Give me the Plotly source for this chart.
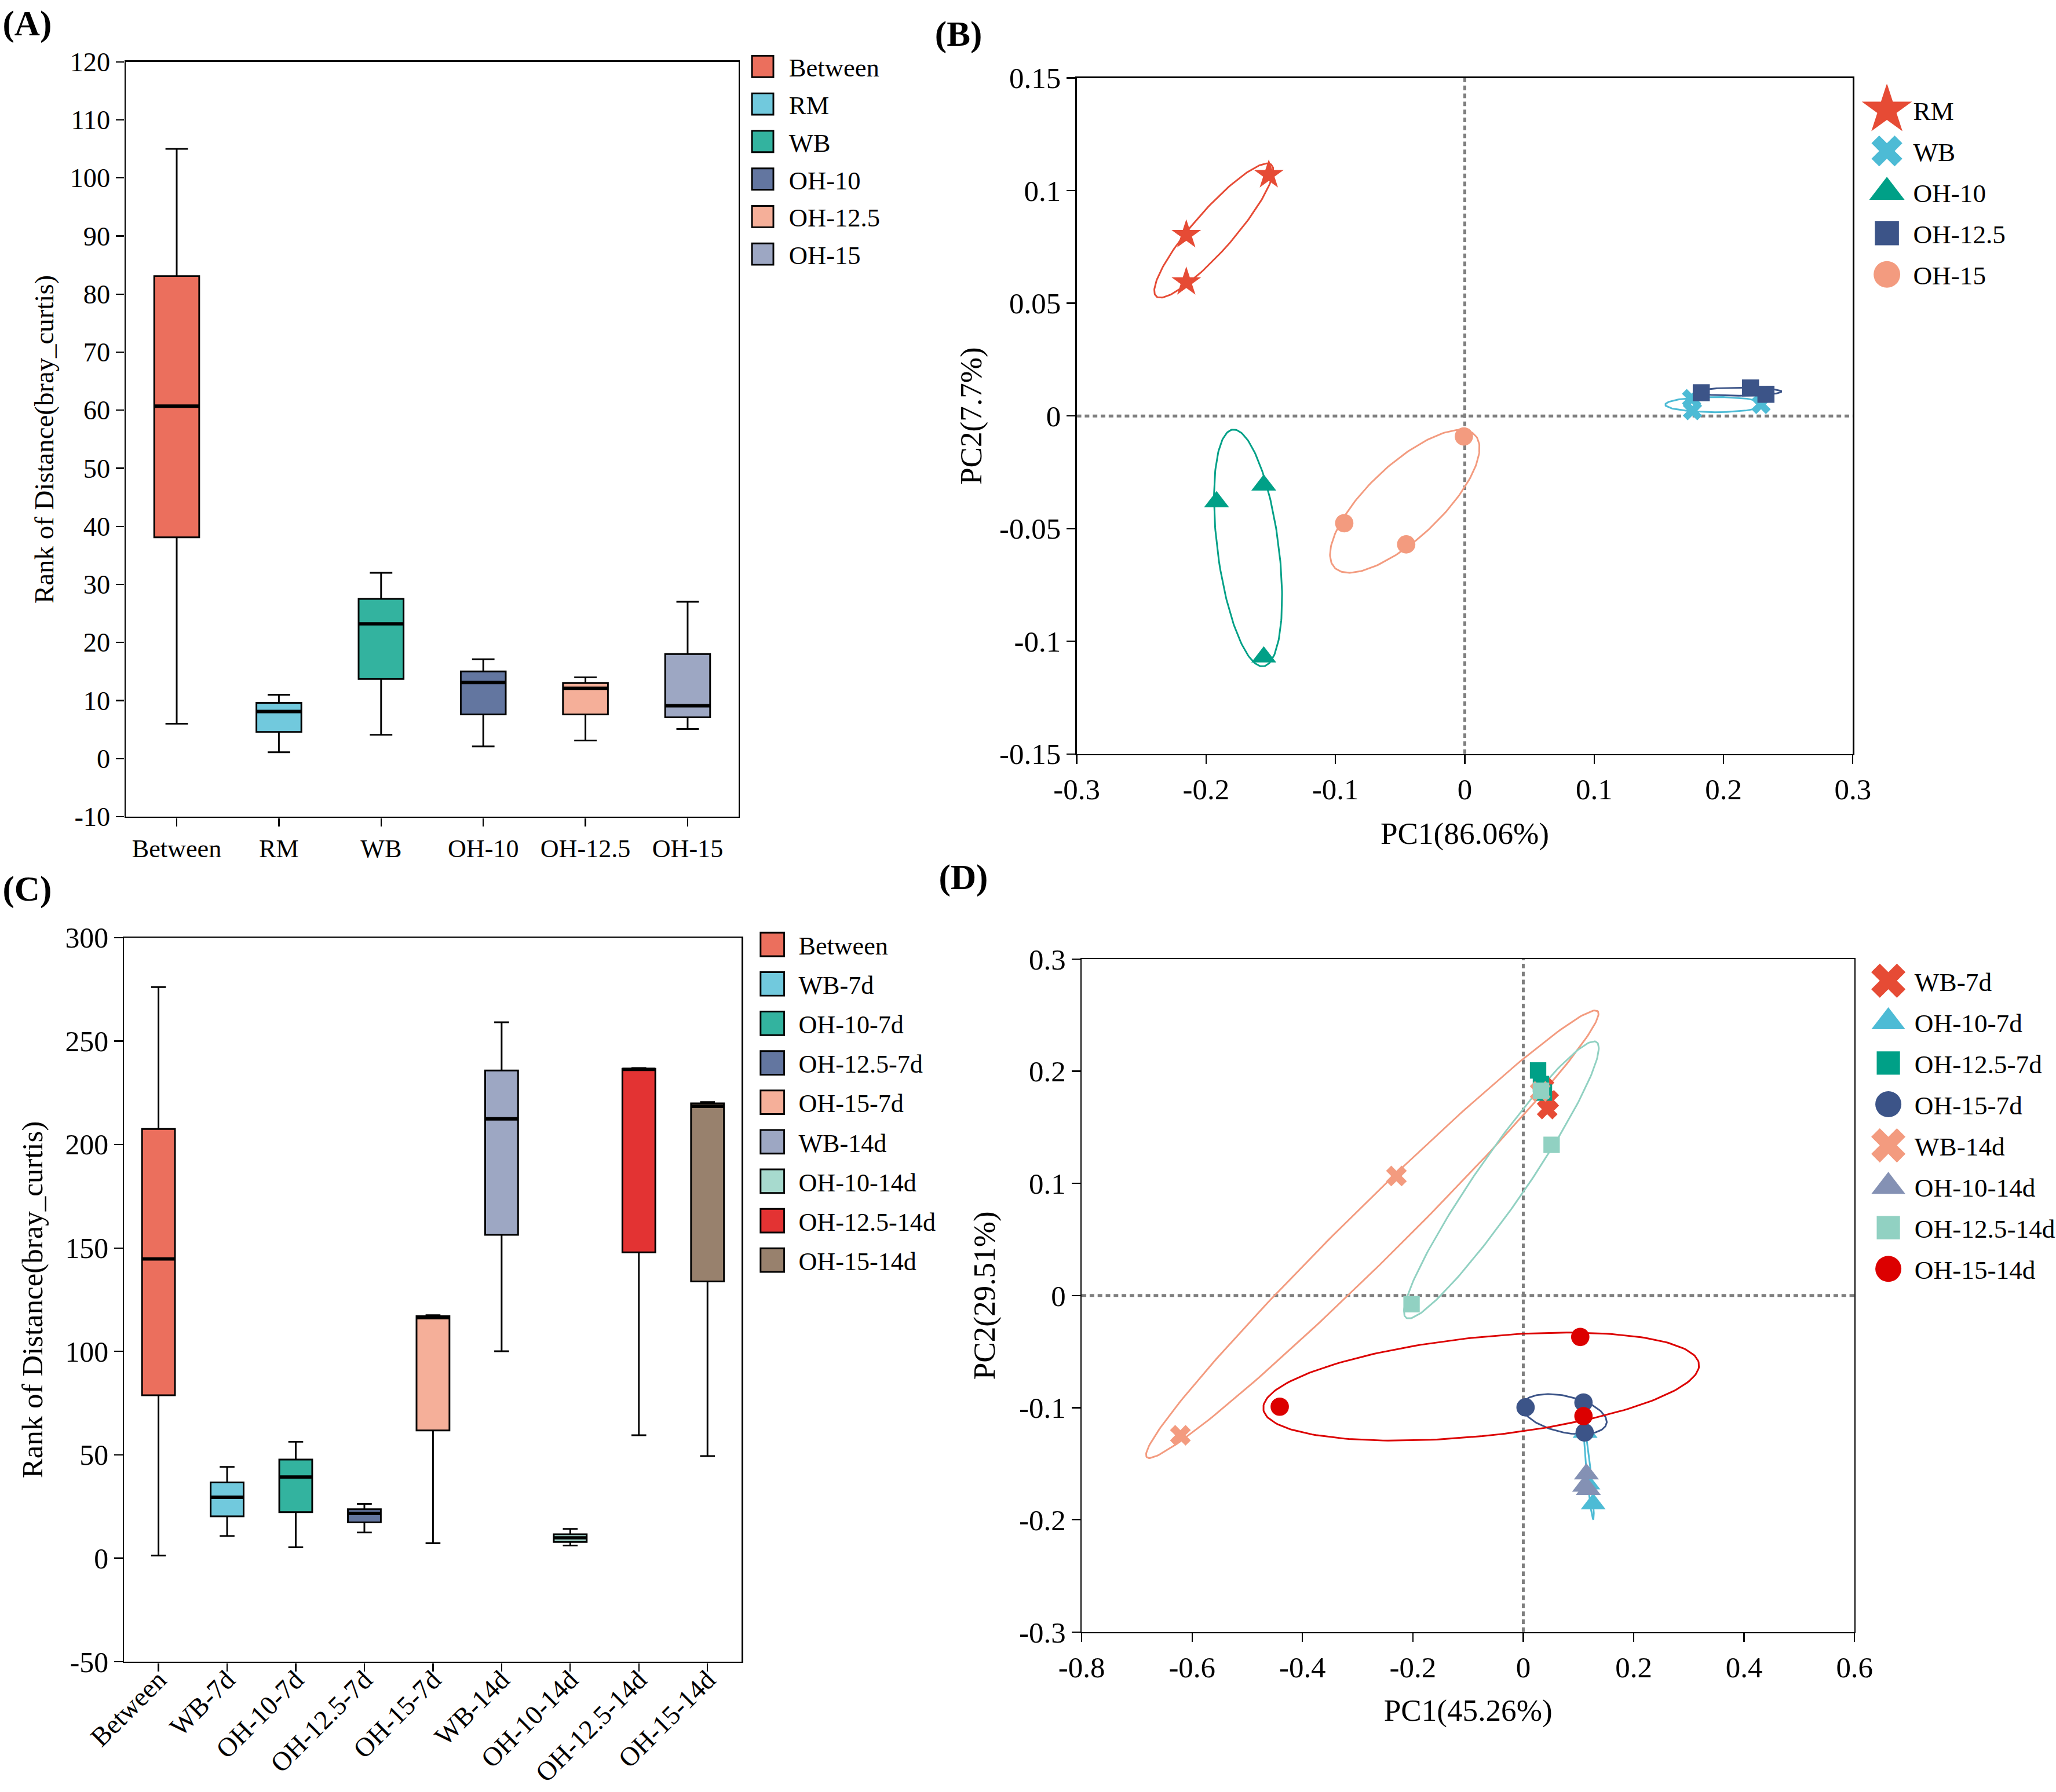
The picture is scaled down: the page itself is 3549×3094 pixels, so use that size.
import json
import numpy as np
import plotly.graph_objects as go

# ---------------- Panel A : rank of Bray-Curtis distance ----------------
a_groups = ["Between", "RM", "WB", "OH-10", "OH-12.5", "OH-15"]
a_low = [6.0, 1.1, 4.1, 2.1, 3.1, 5.1]
a_q1 = [38.1, 4.6, 13.7, 7.6, 7.6, 7.1]
a_med = [60.7, 8.1, 23.2, 13.1, 12.1, 9.1]
a_q3 = [83.1, 9.6, 27.5, 15.0, 13.0, 18.0]
a_high = [105.0, 11.0, 32.0, 17.1, 14.0, 27.0]
a_colors = ["#E64B35", "#4DBBD5", "#00A087", "#3C5488", "#F39B7F", "#8491B4"]
a_yticks = [-10, 0, 10, 20, 30, 40, 50, 60, 70, 80, 90, 100, 110, 120]
a_yticktext = ["-10", "0", "10", "20", "30", "40", "50", "60", "70", "80", "90", "100", "110", "120"]

# ---------------- Panel B : PCoA ----------------
b_groups = ["RM", "WB", "OH-10", "OH-12.5", "OH-15"]
b_symbols = ["star", "x", "triangle-up", "square", "circle"]
b_colors = ["#E64B35", "#4DBBD5", "#00A087", "#3C5488", "#F39B7F"]
b_label = ["RM", "RM", "RM", "WB", "WB", "WB", "OH-10", "OH-10", "OH-10",
           "OH-12.5", "OH-12.5", "OH-12.5", "OH-15", "OH-15", "OH-15"]
b_pc1 = [-0.2153, -0.2153, -0.1515, 0.1753, 0.1760, 0.2290, -0.1919, -0.1554, -0.1554,
         0.1828, 0.2209, 0.2328, -0.0007, -0.0932, -0.0453]
b_pc2 = [0.0804, 0.0594, 0.1070, 0.0077, 0.0023, 0.0051, -0.0381, -0.0307, -0.1070,
         0.0103, 0.0124, 0.0096, -0.0091, -0.0476, -0.0570]
b_ticks = [-0.3, -0.2, -0.1, 0, 0.1, 0.2, 0.3]
b_ticktext = ["-0.3", "-0.2", "-0.1", "0", "0.1", "0.2", "0.3"]
b_yticks = [-0.15, -0.1, -0.05, 0, 0.05, 0.1, 0.15]
b_yticktext = ["-0.15", "-0.1", "-0.05", "0", "0.05", "0.1", "0.15"]

# ---------------- Panel C : rank of distance, time series ----------------
c_groups = ["Between", "WB-7d", "OH-10-7d", "OH-12.5-7d", "OH-15-7d",
            "WB-14d", "OH-10-14d", "OH-12.5-14d", "OH-15-14d"]
c_low = [1.3, 10.8, 5.3, 12.5, 7.3, 100.1, 6.2, 59.5, 49.4]
c_q1 = [78.8, 20.3, 22.3, 17.4, 61.8, 156.3, 7.9, 147.9, 133.8]
c_med = [144.7, 29.5, 39.3, 21.7, 116.3, 212.4, 9.9, 236.3, 218.5]
c_q3 = [207.5, 36.7, 47.7, 23.7, 117.0, 235.8, 11.6, 236.6, 219.9]
c_high = [276.1, 44.2, 56.3, 26.3, 117.5, 259.1, 14.2, 237.0, 220.5]
c_colors = ["#E64B35", "#4DBBD5", "#00A087", "#3C5488", "#F39B7F",
            "#8491B4", "#91D1C2", "#DC0000", "#7E6148"]
c_yticks = [-50, 0, 50, 100, 150, 200, 250, 300]
c_yticktext = ["-50", "0", "50", "100", "150", "200", "250", "300"]

# ---------------- Panel D : PCoA, time series ----------------
d_groups = ["WB-7d", "OH-10-7d", "OH-12.5-7d", "OH-15-7d",
            "WB-14d", "OH-10-14d", "OH-12.5-14d", "OH-15-14d"]
d_symbols = ["x", "triangle-up", "square", "circle", "x", "triangle-up", "square", "circle"]
d_colors = ["#E64B35", "#4DBBD5", "#00A087", "#3C5488",
            "#F39B7F", "#8491B4", "#91D1C2", "#DC0000"]
d_label = ["WB-7d"] * 3 + ["OH-10-7d"] * 3 + ["OH-12.5-7d"] * 3 + ["OH-15-7d"] * 3 + \
          ["WB-14d"] * 3 + ["OH-10-14d"] * 3 + ["OH-12.5-14d"] * 3 + ["OH-15-14d"] * 3
d_pc1 = [0.0374, 0.0460, 0.0433,
         0.1120, 0.1170, 0.1266,
         0.0268, 0.0320, 0.0374,
         0.0041, 0.1090, 0.1112,
         -0.6212, -0.2298, 0.0305,
         0.1143, 0.1110, 0.1178,
         -0.2024, 0.0321, 0.0513,
         0.1032, -0.4412, 0.1090]
d_pc2 = [0.1852, 0.1740, 0.1663,
         -0.1220, -0.1680, -0.1858,
         0.2007, 0.1886, 0.1810,
         -0.0997, -0.0954, -0.1221,
         -0.1246, 0.1066, 0.1820,
         -0.1591, -0.1700, -0.1729,
         -0.0077, 0.1826, 0.1344,
         -0.0369, -0.0991, -0.1075]
d_ticks = [-0.8, -0.6, -0.4, -0.2, 0, 0.2, 0.4, 0.6]
d_ticktext = ["-0.8", "-0.6", "-0.4", "-0.2", "0", "0.2", "0.4", "0.6"]
d_yticks = [-0.3, -0.2, -0.1, 0, 0.1, 0.2, 0.3]
d_yticktext = ["-0.3", "-0.2", "-0.1", "0", "0.1", "0.2", "0.3"]

# ---------------- styling helpers ----------------
W, H = 1568, 1367            # logical canvas, scaled up to 3549 px in the page
SCALE = 3549 / W
FONT = "Liberation Serif"
LW = 1.3


def rgba(hexcol, a):
    h = hexcol.lstrip("#")
    return "rgba(%d,%d,%d,%.2f)" % (int(h[0:2], 16), int(h[2:4], 16), int(h[4:6], 16), a)


def ellipse(xs, ys, k=1.53, n=240):
    pts = np.vstack([np.asarray(xs, float), np.asarray(ys, float)])
    c = pts.mean(axis=1)
    cov = np.cov(pts, bias=True)
    vals, vecs = np.linalg.eigh(cov)
    t = np.linspace(0, 2 * np.pi, n)
    circ = np.vstack([np.cos(t), np.sin(t)])
    e = vecs @ (np.sqrt(np.maximum(vals, 0))[:, None] * circ) * k
    return c[0] + e[0], c[1] + e[1]


fig = go.Figure()


def add_boxes(groups, low, q1, med, q3, high, colors, xa, ya, leg, width, ww):
    for i, g in enumerate(groups):
        fig.add_trace(go.Box(
            x=[g], q1=[q1[i]], median=[med[i]], q3=[q3[i]],
            lowerfence=[low[i]], upperfence=[high[i]],
            name=g, fillcolor=rgba(colors[i], 0.8),
            line=dict(color="black", width=LW), whiskerwidth=ww, width=width,
            boxpoints=False, xaxis=xa, yaxis=ya, legend=leg, legendgroup=leg + g,
            hoverinfo="skip"))
    for i, g in enumerate(groups):
        # thicker median bar drawn on top
        fig.add_trace(go.Box(
            x=[g], q1=[med[i]], median=[med[i]], q3=[med[i]],
            lowerfence=[med[i]], upperfence=[med[i]],
            fillcolor="rgba(0,0,0,0)", line=dict(color="black", width=2.6),
            whiskerwidth=0, width=width, boxpoints=False, showlegend=False,
            xaxis=xa, yaxis=ya, hoverinfo="skip"))


def add_scatter(groups, symbols, colors, labels, px, py, sizes, xa, ya, leg):
    labels = np.array(labels)
    px = np.array(px)
    py = np.array(py)
    for i, g in enumerate(groups):
        m = labels == g
        ex, ey = ellipse(px[m], py[m])
        fig.add_trace(go.Scatter(x=ex, y=ey, mode="lines",
                                 line=dict(color=colors[i], width=LW),
                                 showlegend=False, hoverinfo="skip",
                                 xaxis=xa, yaxis=ya))
    for i, g in enumerate(groups):
        m = labels == g
        fig.add_trace(go.Scatter(x=px[m], y=py[m], mode="markers", name=g,
                                 marker=dict(symbol=symbols[i], color=colors[i],
                                             size=sizes[symbols[i]], line=dict(width=0)),
                                 xaxis=xa, yaxis=ya, legend=leg, legendgroup=leg + g))


add_boxes(a_groups, a_low, a_q1, a_med, a_q3, a_high, a_colors, "x", "y", "legend", 0.44, 0.5)
b_sizes = {"star": 17, "x": 13, "triangle-up": 16.5, "square": 13, "circle": 14}
add_scatter(b_groups, b_symbols, b_colors, b_label, b_pc1, b_pc2, b_sizes, "x2", "y2", "legend2")
add_boxes(c_groups, c_low, c_q1, c_med, c_q3, c_high, c_colors, "x3", "y3", "legend3", 0.48, 0.45)
d_sizes = {"x": 14, "triangle-up": 16.5, "square": 12.5, "circle": 14}
add_scatter(d_groups, d_symbols, d_colors, d_label, d_pc1, d_pc2, d_sizes, "x4", "y4", "legend4")


def axis_common(size):
    return dict(showline=True, mirror=True, linecolor="black", linewidth=LW,
                ticks="outside", ticklen=6.5, tickwidth=LW, tickcolor="black",
                showgrid=False, zeroline=False, automargin=False,
                tickfont=dict(family=FONT, size=size, color="black"))


layout = dict(
    template="none",
    width=W, height=H, margin=dict(l=0, r=0, t=0, b=0, pad=0, autoexpand=False),
    paper_bgcolor="white", plot_bgcolor="white",
    font=dict(family=FONT, color="black"),
    showlegend=True,
    boxmode="overlay",
)

# Panel A axes
layout["xaxis"] = dict(axis_common(19.5), domain=[0.0611, 0.3593], anchor="y",
                       type="category", categoryorder="array", categoryarray=a_groups,
                       range=[-0.5, 5.5])
layout["yaxis"] = dict(axis_common(20.5), domain=[0.5443, 0.9655], anchor="x",
                       range=[-10, 120], tickvals=a_yticks, ticktext=a_yticktext,
                       title=dict(text="Rank of Distance(bray_curtis)", standoff=6,
                                  font=dict(family=FONT, size=20.7)))
# Panel B axes
layout["xaxis2"] = dict(axis_common(22.5), domain=[0.5237, 0.9012], anchor="y2",
                        range=[-0.3, 0.3], tickvals=b_ticks, ticktext=b_ticktext,
                        title=dict(text="PC1(86.06%)", standoff=13,
                                   font=dict(family=FONT, size=23.5)))
layout["yaxis2"] = dict(axis_common(22.5), domain=[0.5793, 0.9565], anchor="x2",
                        range=[-0.15, 0.15], tickvals=b_yticks, ticktext=b_yticktext,
                        title=dict(text="PC2(7.7%)", standoff=6,
                                   font=dict(family=FONT, size=23.5)))
# Panel C axes
layout["xaxis3"] = dict(axis_common(20.5), domain=[0.0604, 0.3608], anchor="y3",
                        type="category", categoryorder="array", categoryarray=c_groups,
                        range=[-0.5, 8.5], tickangle=-45, ticklabelstandoff=-14)
layout["yaxis3"] = dict(axis_common(22), domain=[0.0727, 0.4768], anchor="x3",
                        range=[-50, 300], tickvals=c_yticks, ticktext=c_yticktext,
                        title=dict(text="Rank of Distance(bray_curtis)", standoff=10,
                                   font=dict(family=FONT, size=22.5)))
# Panel D axes
layout["xaxis4"] = dict(axis_common(22.5), domain=[0.5261, 0.9020], anchor="y4",
                        range=[-0.8, 0.6], tickvals=d_ticks, ticktext=d_ticktext,
                        title=dict(text="PC1(45.26%)", standoff=12,
                                   font=dict(family=FONT, size=23.5)))
layout["yaxis4"] = dict(axis_common(22.5), domain=[0.0893, 0.4648], anchor="x4",
                        range=[-0.3, 0.3], tickvals=d_yticks, ticktext=d_yticktext,
                        title=dict(text="PC2(29.51%)", standoff=11,
                                   font=dict(family=FONT, size=23.5)))

leg_common = dict(xanchor="left", yanchor="top", bgcolor="rgba(0,0,0,0)",
                  borderwidth=0, itemsizing="trace", orientation="v")
layout["legend"] = dict(leg_common, x=0.3582, y=0.977, font=dict(family=FONT, size=19.7),
                        tracegroupgap=0)
layout["legend2"] = dict(leg_common, x=0.905, y=0.953, font=dict(family=FONT, size=20),
                         tracegroupgap=2.4)
layout["legend3"] = dict(leg_common, x=0.3629, y=0.487, font=dict(family=FONT, size=19.5),
                         tracegroupgap=1.75)
layout["legend4"] = dict(leg_common, x=0.9057, y=0.467, font=dict(family=FONT, size=20),
                         tracegroupgap=2.4)

dot = dict(color="#7F7F7F", width=2.2, dash="3.5px,2.6px")
layout["shapes"] = [
    dict(type="line", xref="x2", yref="y2 domain", x0=0, x1=0, y0=0, y1=1, line=dot, layer="below"),
    dict(type="line", xref="x2 domain", yref="y2", x0=0, x1=1, y0=0, y1=0, line=dot, layer="below"),
    dict(type="line", xref="x4", yref="y4 domain", x0=0, x1=0, y0=0, y1=1, line=dot, layer="below"),
    dict(type="line", xref="x4 domain", yref="y4", x0=0, x1=1, y0=0, y1=0, line=dot, layer="below"),
]

panel_font = dict(family=FONT, size=27, color="black")
layout["annotations"] = [
    dict(text="<b>(A)</b>", xref="paper", yref="paper", x=0.0, y=0.9865,
         xanchor="left", yanchor="middle", showarrow=False, font=panel_font),
    dict(text="<b>(B)</b>", xref="paper", yref="paper", x=0.4535, y=0.981,
         xanchor="left", yanchor="middle", showarrow=False, font=panel_font),
    dict(text="<b>(C)</b>", xref="paper", yref="paper", x=0.0, y=0.5042,
         xanchor="left", yanchor="middle", showarrow=False, font=panel_font),
    dict(text="<b>(D)</b>", xref="paper", yref="paper", x=0.4555, y=0.5106,
         xanchor="left", yanchor="middle", showarrow=False, font=panel_font),
]

fig.update_layout(**layout)

# enlarge legend symbols (plotly caps legend marker size at 16 px)
legend_symbol_scale = {
    "legend": [1.36] * 6,
    "legend2": [1.8, 1.6, 1.46, 1.41, 1.45],
    "legend3": [1.5] * 9,
    "legend4": [1.65, 1.4, 1.42, 1.42, 1.65, 1.4, 1.42, 1.42],
}

post = (
    "document.body.style.margin='0';document.body.style.overflow='hidden';"
    "var gd=document.getElementById('{plot_id}');"
    "gd.style.transformOrigin='0 0';gd.style.transform='scale(" + repr(SCALE) + ")';"
    "var sc=" + json.dumps(legend_symbol_scale) + ";"
    "Object.keys(sc).forEach(function(k){"
    " var items=gd.querySelectorAll('g.'+k+' g.traces');"
    " items.forEach(function(it,i){"
    "  var s=sc[k][i]||1;"
    "  it.querySelectorAll('g.legendpoints path').forEach(function(p){"
    "   var t=p.getAttribute('transform')||'';"
    "   p.setAttribute('transform',t+' scale('+s+')');"
    "   p.style.vectorEffect='non-scaling-stroke';"
    "  });"
    " });"
    "});"
)
fig.write_html("out.html", post_script=post, config={"responsive": False, "displayModeBar": False})
